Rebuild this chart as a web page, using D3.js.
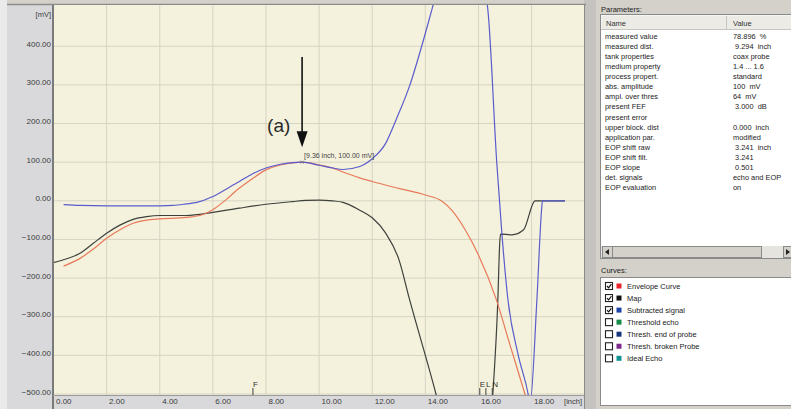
<!DOCTYPE html>
<html>
<head>
<meta charset="utf-8">
<script src="https://cdnjs.cloudflare.com/ajax/libs/d3/7.8.5/d3.min.js"></script>
<style>
  body { margin: 0; background: #d4d1cb; }
  svg { display: block; font-family: "Liberation Sans", Arial, sans-serif; }
</style>
</head>
<body>
<div id="chart"></div>
<script>
// curve data, [inch, mV]
var envelope = [[0.38, -169], [1.0, -149], [1.5, -125], [2.0, -97], [2.5, -75], [3.0, -58],
  [3.5, -50], [4.0, -47], [5.0, -43], [5.6, -36], [6.0, -23], [6.5, 3], [7.0, 33], [7.5, 58],
  [8.0, 80], [8.5, 92], [9.0, 98], [9.36, 100], [10.0, 93], [10.5, 85], [11.0, 72], [11.5, 60],
  [12.0, 50], [13.0, 32], [14.0, 15], [14.6, 0], [15.0, -25], [15.5, -75], [16.0, -140],
  [16.67, -255], [17.2, -376], [17.75, -500], [17.9, -535]];

var mapCurve = [[0, -160], [0.5, -150], [1.0, -136], [1.5, -110], [2.0, -84], [2.5, -63],
  [3.0, -48], [3.5, -41], [4.0, -38], [5.0, -38], [6.0, -30], [7.0, -19], [8.0, -9], [9.0, -2],
  [9.5, 1], [10.0, 2], [10.5, 0], [10.9, -4], [11.5, -23], [12.0, -44], [12.5, -83], [13.0, -151],
  [13.4, -254], [14.4, -500], [14.7, -580], [16.45, -580], [16.54, -500], [16.73, -256],
  [16.8, -110], [16.83, -86], [17.26, -88], [17.7, -75], [18.13, 0], [19.26, 0]];

var subtracted = [[0.38, -10], [1.0, -12], [2.0, -13], [3.0, -13], [4.0, -13], [4.5, -12],
  [5.0, -8], [5.4, -4], [6.0, 11], [6.5, 30], [7.0, 50], [7.5, 70], [8.0, 85], [8.5, 94],
  [9.0, 99], [9.36, 100], [10.0, 92], [10.5, 85], [10.9, 81], [11.5, 88], [12.0, 109],
  [12.5, 148], [12.9, 210], [13.4, 296], [13.9, 409], [14.3, 508], [14.6, 580], [16.0, 580],
  [16.33, 508], [16.69, 98], [16.88, -83], [17.11, -256], [17.5, -400], [17.87, -500],
  [17.94, -527], [18.2, -256], [18.38, -20], [18.41, 0], [19.26, 0]];

var peak = [9.36, 100];
var peakLabel = "[9.36 inch, 100.00 mV]";

var xTicks = [0, 2, 4, 6, 8, 10, 12, 14, 16, 18];
var yTicks = [400, 300, 200, 100, 0, -100, -200, -300, -400, -500];

var markerLabels = ["F", "E", "L", "N"];
var markerPos = [7.51, 16.05, 16.28, 16.52];

var paramNames = ["measured value", "measured dist.", "tank properties", "medium property",
  "process propert.", "abs. amplitude", "ampl. over thres", "present FEF", "present error",
  "upper block. dist", "application par.", "EOP shift raw", "EOP shift filt.", "EOP slope",
  "det. signals", "EOP evaluation"];
var paramValues = ["78.896  %", " 9.294  inch", "coax probe", "1.4 ... 1.6", "standard",
  "100  mV", "64  mV", " 3.000  dB", "", "0.000  inch", "modified", " 3.241  inch", " 3.241",
  " 0.501", "echo and EOP", "on"];

var curveNames = ["Envelope Curve", "Map", "Subtracted signal", "Threshold echo",
  "Thresh. end of probe", "Thresh. broken Probe", "Ideal Echo"];
var curveChecked = [true, true, true, false, false, false, false];

// styles
var legendColors = ["#e8242a", "#111111", "#1f44a8", "#138a45", "#17347e", "#7b2a8e", "#129393"];
var lineColors = { envelope: "#e8795a", map: "#3e403c", subtracted: "#5a5ccc" };

var W = 791, H = 409;
var plotL = 53, plotR = 584, plotT = 5, plotB = 395;

var svg = d3.select("#chart").append("svg")
  .attr("width", W)
  .attr("height", H);

// backgrounds
svg.append("rect").attr("x", 0).attr("y", 0).attr("width", 7).attr("height", H).attr("fill", "#eaeaea");
svg.append("rect").attr("x", 7).attr("y", 4).attr("width", plotR - 7).attr("height", H - 4).attr("fill", "#d9d9dc");
svg.append("rect").attr("x", plotR).attr("y", 0).attr("width", 12).attr("height", H).attr("fill", "#c4c3c0");
svg.append("line").attr("x1", 7).attr("x2", plotR + 2).attr("y1", 4.5).attr("y2", 4.5)
  .attr("stroke", "#8c8c8c").attr("stroke-width", 1.5);

var x = d3.scaleLinear().domain([0, 20]).range([53.5, 584.7]);
var y = d3.scaleLinear().domain([-500, 500]).range([394, 7.6]);

svg.append("rect")
  .attr("x", plotL).attr("y", plotT)
  .attr("width", plotR - plotL).attr("height", plotB - plotT)
  .attr("fill", "#f4f2dd");

svg.append("clipPath").attr("id", "plotclip")
  .append("rect")
  .attr("x", plotL).attr("y", plotT)
  .attr("width", plotR - plotL).attr("height", plotB - plotT);

// grid
svg.append("g").selectAll("line")
  .data(xTicks.filter(function (d) { return d > 0; }))
  .enter().append("line")
  .attr("x1", function (d) { return x(d); })
  .attr("x2", function (d) { return x(d); })
  .attr("y1", plotT).attr("y2", plotB)
  .attr("stroke", "#d6d4c3");

svg.append("g").selectAll("line")
  .data(yTicks)
  .enter().append("line")
  .attr("x1", plotL).attr("x2", plotR)
  .attr("y1", function (d) { return y(d); })
  .attr("y2", function (d) { return y(d); })
  .attr("stroke", "#d6d4c3");

// axes
var yAxis = svg.append("g")
  .attr("transform", "translate(51,0)")
  .call(d3.axisLeft(y).tickValues(yTicks).tickFormat(d3.format(".2f")).tickSize(0).tickPadding(0));
yAxis.select(".domain").remove();
yAxis.selectAll("text")
  .attr("dy", "0")
  .attr("font-size", "8px")
  .attr("font-family", "Liberation Sans, Arial, sans-serif")
  .attr("fill", "#3a3a3a");

var xAxis = svg.append("g")
  .attr("transform", "translate(2," + 404 + ")")
  .call(d3.axisBottom(x).tickValues(xTicks).tickFormat(d3.format(".2f")).tickSize(0).tickPadding(0));
xAxis.select(".domain").remove();
xAxis.selectAll("text")
  .attr("dy", "0")
  .attr("y", 0)
  .attr("text-anchor", "start")
  .attr("font-size", "8px")
  .attr("font-family", "Liberation Sans, Arial, sans-serif")
  .attr("fill", "#3a3a3a");

svg.append("text").attr("x", 51).attr("y", 17).attr("text-anchor", "end")
  .attr("font-size", "7.5px").attr("fill", "#3a3a3a").text("[mV]");
svg.append("text").attr("x", 582).attr("y", 404).attr("text-anchor", "end")
  .attr("font-size", "7.5px").attr("fill", "#3a3a3a").text("[inch]");

// curves
var line = d3.line()
  .x(function (d) { return x(d[0]); })
  .y(function (d) { return y(d[1]); })
  .curve(d3.curveMonotoneX);

var curves = svg.append("g").attr("clip-path", "url(#plotclip)");

curves.append("path").datum(mapCurve)
  .attr("d", line).attr("fill", "none")
  .attr("stroke", lineColors.map).attr("stroke-width", 1.2);
curves.append("path").datum(envelope)
  .attr("d", line).attr("fill", "none")
  .attr("stroke", lineColors.envelope).attr("stroke-width", 1.2);
curves.append("path").datum(subtracted)
  .attr("d", line).attr("fill", "none")
  .attr("stroke", lineColors.subtracted).attr("stroke-width", 1.2);

// axis frame
svg.append("line").attr("x1", plotL).attr("x2", plotL).attr("y1", plotT).attr("y2", plotB + 14)
  .attr("stroke", "#7a7a7a").attr("stroke-width", 2);
svg.append("line").attr("x1", plotL).attr("x2", plotR).attr("y1", plotB + 0.5).attr("y2", plotB + 0.5)
  .attr("stroke", "#9a9a9a").attr("stroke-width", 1);
svg.append("line").attr("x1", plotR + 0.5).attr("x2", plotR + 0.5).attr("y1", plotT).attr("y2", H)
  .attr("stroke", "#8a8a8a").attr("stroke-width", 1);

// markers on the bottom
var mk = svg.append("g").selectAll("g")
  .data(markerPos)
  .enter().append("g");
mk.append("line")
  .attr("x1", function (d) { return x(d); })
  .attr("x2", function (d) { return x(d); })
  .attr("y1", 388).attr("y2", 395)
  .attr("stroke", "#404040");
mk.append("text")
  .attr("x", function (d) { return x(d); })
  .attr("y", 387)
  .attr("font-size", "8px")
  .attr("fill", "#303030")
  .text(function (d, i) { return markerLabels[i]; });

// peak annotation
var px = x(peak[0]), py = y(peak[1]);
svg.append("path")
  .attr("d", "M" + (px - 1.5) + "," + (py + 1.5) + "l3,-3 M" + (px - 1.5) + "," + (py - 1.5) + "l3,3")
  .attr("stroke", "#777").attr("stroke-width", 0.8);
svg.append("text")
  .attr("x", px + 2).attr("y", py - 4.5)
  .attr("font-size", "7px").attr("fill", "#444")
  .text(peakLabel);

svg.append("line")
  .attr("x1", px).attr("x2", px)
  .attr("y1", 57).attr("y2", py - 30)
  .attr("stroke", "#111").attr("stroke-width", 1.6);
svg.append("path")
  .attr("d", "M" + (px - 5.5) + "," + (py - 31) + "L" + (px + 5.5) + "," + (py - 31) + "L" + px + "," + (py - 15) + "Z")
  .attr("fill", "#111");
svg.append("text")
  .attr("x", px - 35).attr("y", py - 30.5)
  .attr("font-size", "19px").attr("fill", "#2a2a2a")
  .attr("font-family", "Liberation Sans Narrow, Liberation Sans, Arial, sans-serif")
  .text("(a)");

// right panel: parameters
var panelX = 600;
svg.append("text").attr("x", panelX + 1).attr("y", 12)
  .attr("font-size", "7.5px").attr("fill", "#222").text("Parameters:");

svg.append("rect").attr("x", panelX + 0.5).attr("y", 14.5).attr("width", W - panelX).attr("height", 244)
  .attr("fill", "#ffffff").attr("stroke", "#8a8a8a");
svg.append("rect").attr("x", panelX + 1.5).attr("y", 15.5).attr("width", W - panelX - 1).attr("height", 14)
  .attr("fill", "#ecebe6");
svg.append("line").attr("x1", panelX + 1).attr("x2", W).attr("y1", 29.5).attr("y2", 29.5)
  .attr("stroke", "#c8c6c0");
svg.append("line").attr("x1", 726.5).attr("x2", 726.5).attr("y1", 16).attr("y2", 29)
  .attr("stroke", "#c8c6c0");
svg.append("text").attr("x", 606).attr("y", 25.5).attr("font-size", "7.5px").attr("fill", "#333").text("Name");
svg.append("text").attr("x", 733).attr("y", 25.5).attr("font-size", "7.5px").attr("fill", "#333").text("Value");

var rows = svg.append("g").selectAll("g")
  .data(paramNames)
  .enter().append("g")
  .attr("transform", function (d, i) { return "translate(0," + (39 + i * 10.07) + ")"; });
rows.append("text").attr("x", 605).attr("font-size", "7.4px").attr("fill", "#222")
  .text(function (d) { return d; });
rows.append("text").attr("x", 733).attr("font-size", "7.4px").attr("fill", "#222")
  .attr("xml:space", "preserve").style("white-space", "pre")
  .text(function (d, i) { return paramValues[i]; });

// scrollbar
svg.append("rect").attr("x", 601).attr("y", 246).attr("width", W - 601).attr("height", 12).attr("fill", "#e6e4df");
svg.append("rect").attr("x", 602.5).attr("y", 246.5).attr("width", 10).attr("height", 11)
  .attr("fill", "#d4d1cb").attr("stroke", "#8a8a8a");
svg.append("path").attr("d", "M605,252 l4,-3 v6 z").attr("fill", "#222");
svg.append("rect").attr("x", 612.5).attr("y", 246.5).attr("width", 149).attr("height", 11)
  .attr("fill", "#d4d1cb").attr("stroke", "#8a8a8a");
svg.append("rect").attr("x", 783.5).attr("y", 246.5).attr("width", 10).attr("height", 11)
  .attr("fill", "#d4d1cb").attr("stroke", "#8a8a8a");
svg.append("path").attr("d", "M790,252 l-4,-3 v6 z").attr("fill", "#222");

// right panel: curves
svg.append("text").attr("x", panelX + 1).attr("y", 273)
  .attr("font-size", "7.5px").attr("fill", "#222").text("Curves:");
svg.append("rect").attr("x", panelX + 0.5).attr("y", 277.5).attr("width", W - panelX).attr("height", 128)
  .attr("fill", "#ffffff").attr("stroke", "#8a8a8a");

var items = svg.append("g").selectAll("g")
  .data(curveNames)
  .enter().append("g")
  .attr("transform", function (d, i) { return "translate(0," + (286 + i * 12.05) + ")"; });
items.append("rect").attr("x", 605.5).attr("y", -3.5).attr("width", 7).attr("height", 7)
  .attr("fill", "#fff").attr("stroke", "#222").attr("stroke-width", 1.1);
items.filter(function (d, i) { return curveChecked[i]; })
  .append("path").attr("d", "M607,0 l1.6,1.8 l2.8,-3.6")
  .attr("fill", "none").attr("stroke", "#111").attr("stroke-width", 1.2);
items.append("rect").attr("x", 616.5).attr("y", -2.5).attr("width", 5).attr("height", 5)
  .attr("fill", function (d, i) { return legendColors[i]; });
items.append("text").attr("x", 627).attr("y", 2.8)
  .attr("font-size", "7.5px").attr("fill", "#222")
  .text(function (d) { return d; });
</script>
</body>
</html>
